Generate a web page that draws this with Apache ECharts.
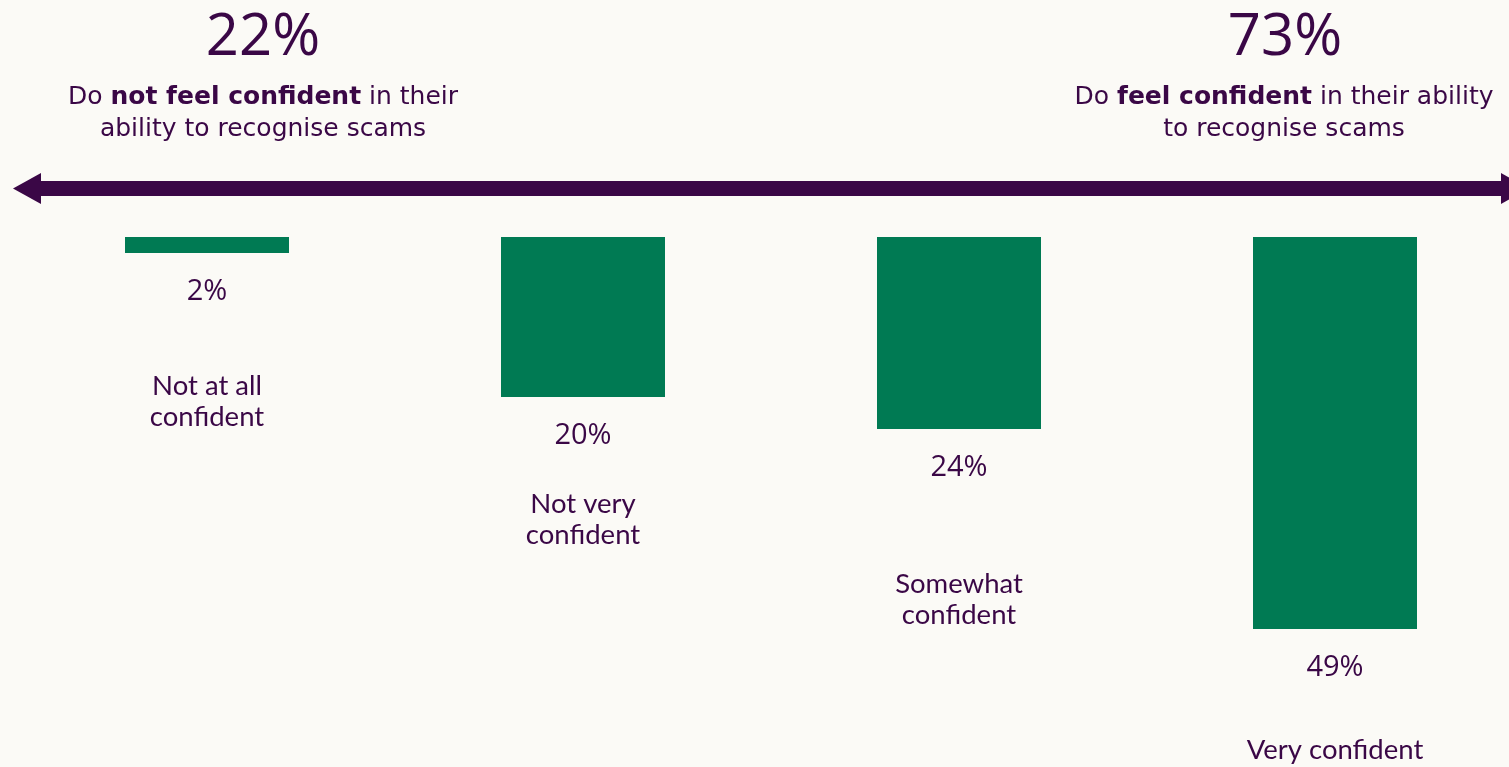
<!DOCTYPE html>
<html>
<head>
<meta charset="utf-8">
<title>Confidence in recognising scams</title>
<script src="https://cdn.jsdelivr.net/npm/echarts@6/dist/echarts.min.js"></script>
<style>
  html, body { margin: 0; padding: 0; background: #fbfaf6; }
  #chart { width: 1509px; height: 767px; }
</style>
</head>
<body>
<div id="chart"></div>
<script>
// Survey answers, ordered from least to most confident
const categories = ['Not at all\nconfident', 'Not very\nconfident', 'Somewhat\nconfident', 'Very confident'];
const shares = [2, 20, 24, 49];

// Summary figures for the two ends of the scale
const notConfidentTotal = 22;
const confidentTotal = 73;

// Drop of each caption below its bar (layout only)
const captionGap = [118, 92, 140, 106];

const PURPLE = '#3a0746';
const GREEN = '#007a53';

const chart = echarts.init(document.getElementById('chart'));

const subStyle = { fontFamily: 'DejaVu Sans', fontSize: 25, fill: PURPLE, lineHeight: 32 };
const subBold = Object.assign({}, subStyle, { fontWeight: 'bold' });

chart.setOption({
  backgroundColor: '#fbfaf6',
  animation: false,
  // Category centres sit on the grid edges (boundaryGap: false)
  grid: { left: 207, right: 174, top: 237, height: 480 },
  xAxis: {
    type: 'category',
    data: categories,
    boundaryGap: false,
    show: false
  },
  yAxis: {
    type: 'value',
    inverse: true,
    min: 0,
    max: 60,
    show: false
  },
  series: [
    {
      type: 'bar',
      data: shares,
      barWidth: 164,
      clip: false,
      itemStyle: { color: GREEN },
      label: {
        show: true,
        position: 'bottom',
        distance: 24,
        formatter: p => p.value + '%',
        fontFamily: 'Open Sans',
        fontSize: 29,
        color: PURPLE
      }
    },
    {
      type: 'bar',
      barWidth: 164,
      barGap: '-100%',
      clip: false,
      silent: true,
      itemStyle: { color: 'rgba(0,0,0,0)' },
      data: shares.map((v, i) => ({ value: v, label: { distance: captionGap[i] } })),
      label: {
        show: true,
        position: 'bottom',
        formatter: p => categories[p.dataIndex],
        fontFamily: 'Lato',
        fontSize: 27.5,
        lineHeight: 31,
        align: 'center',
        color: PURPLE
      }
    }
  ],
  graphic: [
    // Double-headed scale arrow
    { type: 'rect', shape: { x: 40, y: 181, width: 1462, height: 15 }, style: { fill: PURPLE }, silent: true },
    { type: 'polygon', shape: { points: [[13, 188.5], [41, 173], [41, 204]] }, style: { fill: PURPLE }, silent: true },
    { type: 'polygon', shape: { points: [[1529, 188.5], [1501, 173], [1501, 204]] }, style: { fill: PURPLE }, silent: true },

    // Left summary
    {
      type: 'text', x: 263, y: 38,
      style: { text: notConfidentTotal + '%', fontFamily: 'Open Sans', fontSize: 58, fill: PURPLE, align: 'center', verticalAlign: 'middle' }
    },
    {
      type: 'text', x: 263, y: 113,
      style: {
        text: '{n|Do }{b|not feel confident}{n| in their}\n{n|ability to recognise scams}',
        align: 'center', verticalAlign: 'middle',
        rich: { n: subStyle, b: subBold }
      }
    },

    // Right summary
    {
      type: 'text', x: 1285, y: 38,
      style: { text: confidentTotal + '%', fontFamily: 'Open Sans', fontSize: 58, fill: PURPLE, align: 'center', verticalAlign: 'middle' }
    },
    {
      type: 'text', x: 1284, y: 113,
      style: {
        text: '{n|Do }{b|feel confident}{n| in their ability}\n{n|to recognise scams}',
        align: 'center', verticalAlign: 'middle',
        rich: { n: subStyle, b: subBold }
      }
    }
  ]
});
</script>
</body>
</html>
